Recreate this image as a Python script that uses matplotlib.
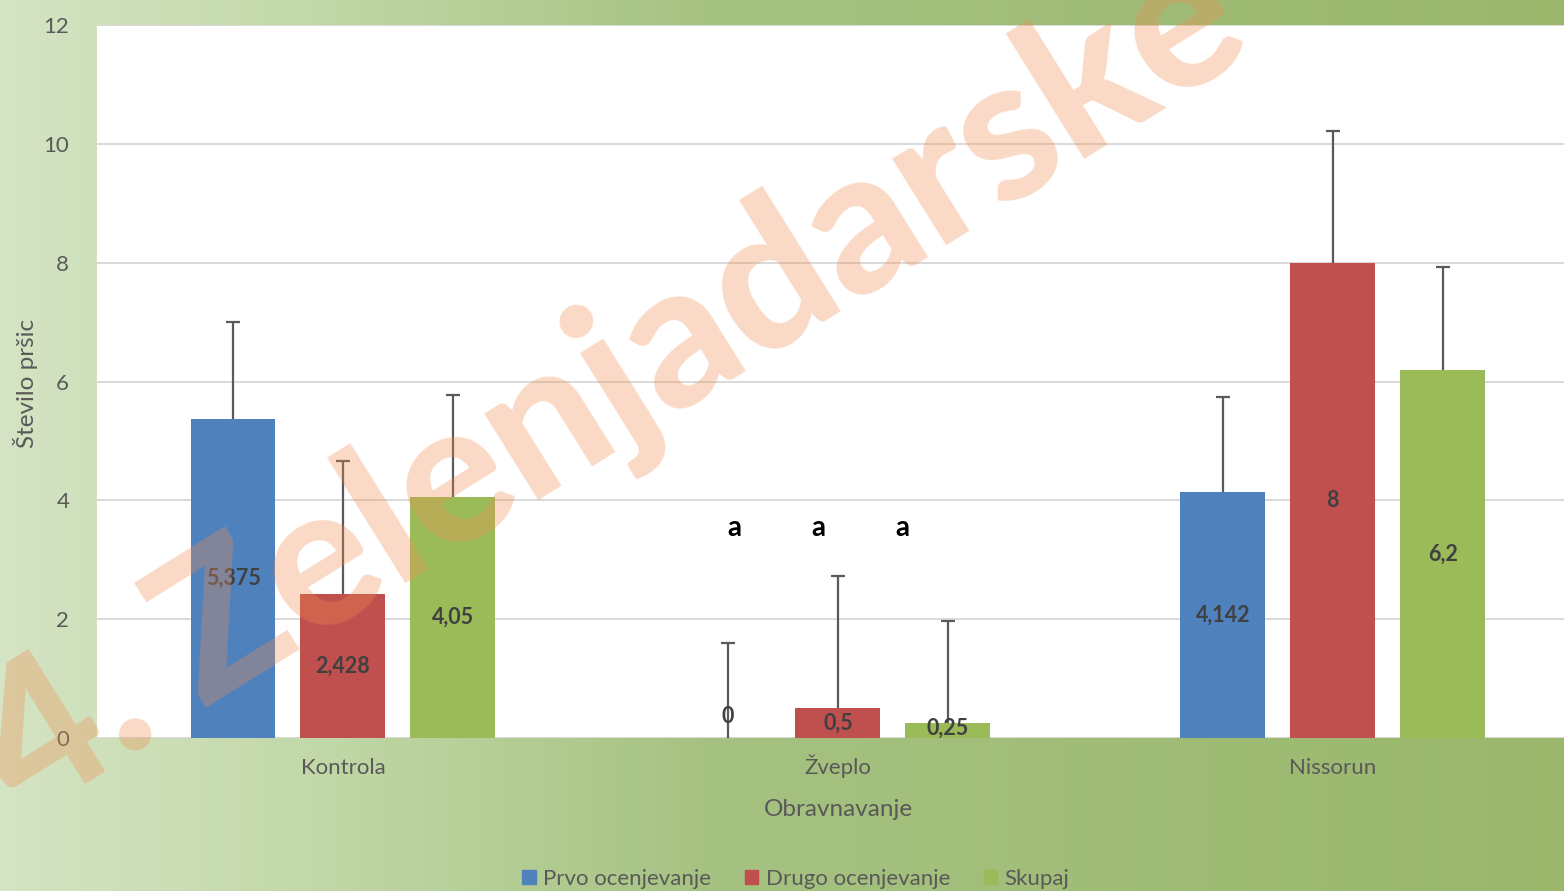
import numpy as np
import matplotlib
matplotlib.use("Agg")
import matplotlib.pyplot as plt
from matplotlib.colors import LinearSegmentedColormap
from matplotlib.patches import Patch

# data
categories = ["Kontrola", "Žveplo", "Nissorun"]
series_names = ["Prvo ocenjevanje", "Drugo ocenjevanje", "Skupaj"]
prvo = [5.375, 0.0, 4.142]
drugo = [2.428, 0.5, 8.0]
skupaj = [4.05, 0.25, 6.2]
prvo_err = [1.62, 1.60, 1.60]
drugo_err = [2.24, 2.22, 2.22]
skupaj_err = [1.73, 1.72, 1.73]
value_labels = [["5,375", "0", "4,142"], ["2,428", "0,5", "8"], ["4,05", "0,25", "6,2"]]
letters = ["a", "a", "a"]
y_ticks = [0, 2, 4, 6, 8, 10, 12]

colors = ["#4f81bd", "#c0504d", "#9bbb59"]
text_gray = "#595959"

plt.rcParams["font.family"] = ["Lato", "DejaVu Sans"]

fig = plt.figure(figsize=(15.64, 8.91), dpi=100)

# green gradient background
bg = fig.add_axes([0, 0, 1, 1], zorder=-10)
cmap = LinearSegmentedColormap.from_list(
    "bg", [(0.0, "#d5e4c4"), (0.2, "#c2d8a8"), (0.45, "#a6c282"), (1.0, "#9ab76c")])
grad = np.linspace(0, 1, 512).reshape(1, -1)
bg.imshow(grad, aspect="auto", cmap=cmap, extent=[0, 1, 0, 1])
bg.axis("off")

ax = fig.add_axes([97 / 1564, 1 - 738 / 891, 1 - 97 / 1564, (738 - 25) / 891])
ax.set_facecolor("white")

x = np.arange(len(categories))
step = 110 / 495
width = 85 / 495
all_vals = [prvo, drugo, skupaj]
all_err = [prvo_err, drugo_err, skupaj_err]

for i, (vals, errs) in enumerate(zip(all_vals, all_err)):
    pos = x + (i - 1) * step
    ax.bar(pos, vals, width, color=colors[i], zorder=2)
    eb = ax.errorbar(pos, vals, yerr=[np.zeros(len(errs)), errs], fmt="none",
                     ecolor="#5a5a5a", elinewidth=1.6, capsize=5, capthick=1.6, zorder=3)
    # plus-only error bars: hide the lower caps
    eb[1][0].set_visible(False)
    for p, v, lab in zip(pos, vals, value_labels[i]):
        ypos = v / 2 if v > 0 else 0.37
        ax.text(p, max(ypos, 0.17), lab, ha="center", va="center",
                fontsize=15.5, fontweight="bold", color="#404040", zorder=4)

# significance letters above Žveplo
for k, lt in enumerate(letters):
    ax.text(1 - 0.21 + k * 0.17, 3.54, lt, ha="center", va="center",
            fontsize=20, fontweight="bold", color="black", zorder=4)

ax.set_xlim(-0.497, 2.467)
ax.set_ylim(0, 12)
ax.set_yticks(y_ticks)
ax.set_xticks(x)
ax.set_xticklabels(categories)
for lab in ax.get_xticklabels():
    lab.set_verticalalignment("baseline")
ax.yaxis.grid(True, color="#d9d9d9", linewidth=1.4, zorder=0)
ax.set_axisbelow(True)
for s in ax.spines.values():
    s.set_visible(False)
ax.tick_params(axis="both", length=0, labelsize=16, colors=text_gray)
ax.tick_params(axis="x", pad=26)
ax.tick_params(axis="y", pad=20)

fig.text(25 / 1564, 1 - 383 / 891, "Število pršic", rotation=90, ha="center",
         va="center", fontsize=17.5, color=text_gray)
fig.text(838 / 1564, 1 - 810 / 891, "Obravnavanje", ha="center", va="center",
         fontsize=17.5, color=text_gray)

handles = [Patch(color=c, label=n) for c, n in zip(colors, series_names)]
fig.legend(handles=handles, loc="center", bbox_to_anchor=(796 / 1564, 1 - 879 / 891),
           ncol=3, frameon=False, fontsize=16, handlelength=0.6, handleheight=0.6,
           handletextpad=0.35, columnspacing=1.5, labelcolor=text_gray)

# watermark
fig.text(612 / 1564, 1 - 388 / 891, "4. Zelenjadarske", rotation=32, ha="center",
         va="center", fontsize=143, fontweight="black", color=(0.94, 0.55, 0.31),
         alpha=0.32, zorder=20, rotation_mode="anchor")

fig.savefig("out.png", dpi=100)
